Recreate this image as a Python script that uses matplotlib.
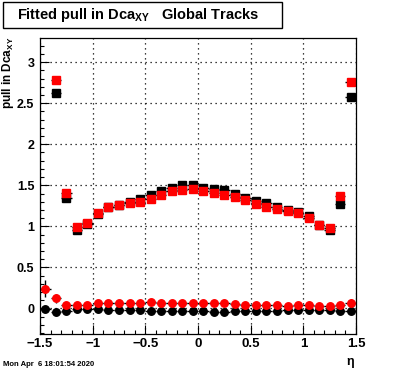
import matplotlib
matplotlib.use("Agg")
import matplotlib.pyplot as plt
from matplotlib.patches import Rectangle
from matplotlib.ticker import MultipleLocator, FuncFormatter

plt.rcParams["font.family"] = ["Liberation Sans", "DejaVu Sans"]
plt.rcParams["font.weight"] = "bold"
plt.rcParams["mathtext.fontset"] = "custom"
plt.rcParams["mathtext.rm"] = "Liberation Sans:bold"
plt.rcParams["mathtext.bf"] = "Liberation Sans:bold"

# eta bin centres
eta = [-1.45, -1.35, -1.25, -1.15, -1.05, -0.95, -0.85, -0.75, -0.65, -0.55,
       -0.45, -0.35, -0.25, -0.15, -0.05, 0.05, 0.15, 0.25, 0.35, 0.45,
       0.55, 0.65, 0.75, 0.85, 0.95, 1.05, 1.15, 1.25, 1.35, 1.45]

# fitted sigma (squares), first bin is off scale
sigma_black = [2.62, 1.35, 0.95, 1.03, 1.15, 1.23, 1.26, 1.30, 1.33,
               1.38, 1.43, 1.47, 1.50, 1.50, 1.47, 1.46, 1.44, 1.39, 1.35,
               1.31, 1.28, 1.24, 1.20, 1.18, 1.13, 1.02, 0.95, 1.27, 2.58]
sigma_red = [2.79, 1.41, 0.99, 1.04, 1.16, 1.23, 1.26, 1.28, 1.30,
             1.33, 1.38, 1.43, 1.44, 1.46, 1.43, 1.41, 1.38, 1.36, 1.32,
             1.27, 1.23, 1.21, 1.19, 1.16, 1.10, 1.01, 0.98, 1.37, 2.76]
sigma_err = [0.03, 0.01, 0.01, 0.01, 0.01, 0.01, 0.01, 0.01, 0.01,
             0.01, 0.01, 0.01, 0.01, 0.01, 0.01, 0.01, 0.01, 0.01, 0.01,
             0.01, 0.01, 0.01, 0.01, 0.01, 0.01, 0.01, 0.01, 0.01, 0.03]

# fitted mean (circles)
mean_red = [0.24, 0.12, 0.035, 0.045, 0.045, 0.06, 0.06, 0.06, 0.06, 0.06,
            0.075, 0.07, 0.07, 0.07, 0.07, 0.07, 0.06, 0.06, 0.05, 0.045,
            0.045, 0.045, 0.035, 0.025, 0.035, 0.035, 0.025, 0.025, 0.035, 0.07]
mean_red_err = [0.1, 0.05, 0.01, 0.01, 0.01, 0.01, 0.01, 0.01, 0.01, 0.01,
                0.01, 0.01, 0.01, 0.01, 0.01, 0.01, 0.01, 0.01, 0.01, 0.01,
                0.01, 0.01, 0.01, 0.01, 0.01, 0.01, 0.01, 0.01, 0.01, 0.045]
mean_black = [-0.01, -0.04, -0.03, -0.01, -0.005, -0.005, -0.02, -0.025, -0.025, -0.025,
              -0.035, -0.035, -0.035, -0.035, -0.035, -0.035, -0.05, -0.045, -0.03, -0.03,
              -0.03, -0.03, -0.03, -0.02, -0.02, -0.02, -0.015, -0.015, -0.03, -0.03]
mean_black_err = [0.03, 0.02, 0.01, 0.01, 0.01, 0.01, 0.01, 0.01, 0.01, 0.01,
                  0.01, 0.01, 0.01, 0.01, 0.01, 0.01, 0.01, 0.01, 0.01, 0.01,
                  0.01, 0.01, 0.01, 0.01, 0.01, 0.01, 0.01, 0.01, 0.01, 0.04]

W, H = 396, 372
fig = plt.figure(figsize=(W / 100, H / 100), dpi=100)
ax = fig.add_axes([40 / W, 1 - 334 / H, 316 / W, 296 / H])

eb = dict(xerr=0.05, ecolor="black", elinewidth=1, capsize=0, linestyle="none")
ax.errorbar(eta[1:], sigma_black, yerr=sigma_err, fmt="s", color="black",
            markersize=5.2, **eb)
ax.errorbar(eta[1:], sigma_red, yerr=sigma_err, fmt="s", color="red",
            markersize=5.2, **eb)
ax.errorbar(eta, mean_black, yerr=mean_black_err, fmt="o", color="black",
            markersize=5.4, **eb)
ax.errorbar(eta, mean_red, yerr=mean_red_err, fmt="o", color="red",
            markersize=5.4, **eb)

ax.set_xlim(-1.5, 1.5)
ax.set_ylim(-0.313, 3.296)
ax.xaxis.set_major_locator(MultipleLocator(0.5))
ax.xaxis.set_minor_locator(MultipleLocator(0.1))
ax.yaxis.set_major_locator(MultipleLocator(0.5))
ax.yaxis.set_minor_locator(MultipleLocator(0.1))
fmt = FuncFormatter(lambda v, p: ("%g" % round(v, 2)).replace("-", "\u2212"))
ax.xaxis.set_major_formatter(fmt)
ax.yaxis.set_major_formatter(fmt)
ax.tick_params(which="both", direction="in", top=False, right=False,
               labelsize=9.5, width=0.8)
ax.tick_params(axis="y", labelsize=9, pad=4)
ax.tick_params(which="major", length=6.5)
ax.tick_params(which="minor", length=3.2)
ax.tick_params(axis="x", pad=3)
ax.grid(True, which="major", color="black", linestyle=(0, (1, 3)), linewidth=0.9)
ax.set_axisbelow(True)
for s in ax.spines.values():
    s.set_linewidth(0.9)

# title box
fig.patches.append(Rectangle((3 / W, 1 - 28 / H), 279 / W, 26 / H,
                             transform=fig.transFigure, fill=True,
                             facecolor="white", edgecolor="black", linewidth=1))
fig.text(138 / W, 1 - 15 / H, r"Fitted pull in Dca$_{\mathbf{XY}}$   Global Tracks",
         ha="center", va="center", fontsize=10.5, fontweight="bold")

fig.text(8 / W, 1 - 37 / H, r"pull in Dca$_{\mathbf{XY}}$", rotation=90,
         ha="center", va="top", fontsize=8.5, fontweight="bold")
fig.text(350 / W, 1 - 362 / H, "η", ha="center", va="center", fontsize=9)
fig.text(3 / W, 1 - 365 / H, "Mon Apr  6 18:01:54 2020", ha="left",
         va="center", fontsize=5.5, fontweight="bold")

fig.savefig("out.png", dpi=100)
